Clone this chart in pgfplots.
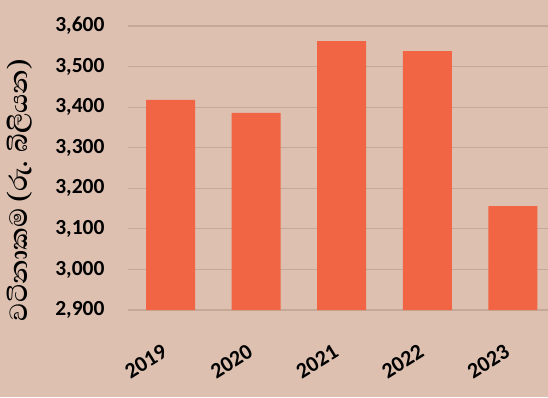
\documentclass[border=0pt]{standalone}
\usepackage{pgfplots}
\pgfplotsset{compat=1.18}
\usepackage{fontspec}
\setmainfont{Carlito}
\newfontfamily\sinhala[Script=Sinhala]{Abhaya Libre}
\definecolor{bg}{RGB}{221,192,176}
\definecolor{barc}{RGB}{241,100,68}
\definecolor{gridc}{RGB}{196,168,152}
\begin{document}
\begin{tikzpicture}
\fill[bg] (0,0) rectangle (548pt,397pt);
\useasboundingbox (0,0) rectangle (548pt,397pt);
\begin{axis}[
  at={(128pt,87pt)}, anchor=south west,
  scale only axis, width=420pt, height=284pt,
  xmin=-0.4965, xmax=4.41, ymin=2900, ymax=3600,
  ytick={2900,3000,...,3600},
  xtick={0,1,2,3,4},
  xticklabels={2019,2020,2021,2022,2023},
  axis line style={draw=none},
  major tick style={draw=none},
  ymajorgrids, grid style={gridc, line width=1.2pt},
  /pgf/number format/.cd, 1000 sep={,}, assume math mode=true,
  /pgfplots/.cd,
  yticklabel style={font=\fontsize{21.5}{26}\selectfont\bfseries, anchor=east, xshift=-20pt},
  xticklabel style={font=\fontsize{22}{25}\selectfont\bfseries, rotate=32, anchor=north east, yshift=-16pt, xshift=-20pt},
  ybar, bar width=49pt,
]
\addplot[fill=barc, draw=none] coordinates {(0,3418) (1,3386) (2,3563) (3,3538) (4,3156)};
\end{axis}
\node[rotate=90] at (20pt,207pt) {\sinhala\bfseries\fontsize{32}{36}\selectfont වටිනාකම (රු. බිලියන)};
\end{tikzpicture}
\end{document}
